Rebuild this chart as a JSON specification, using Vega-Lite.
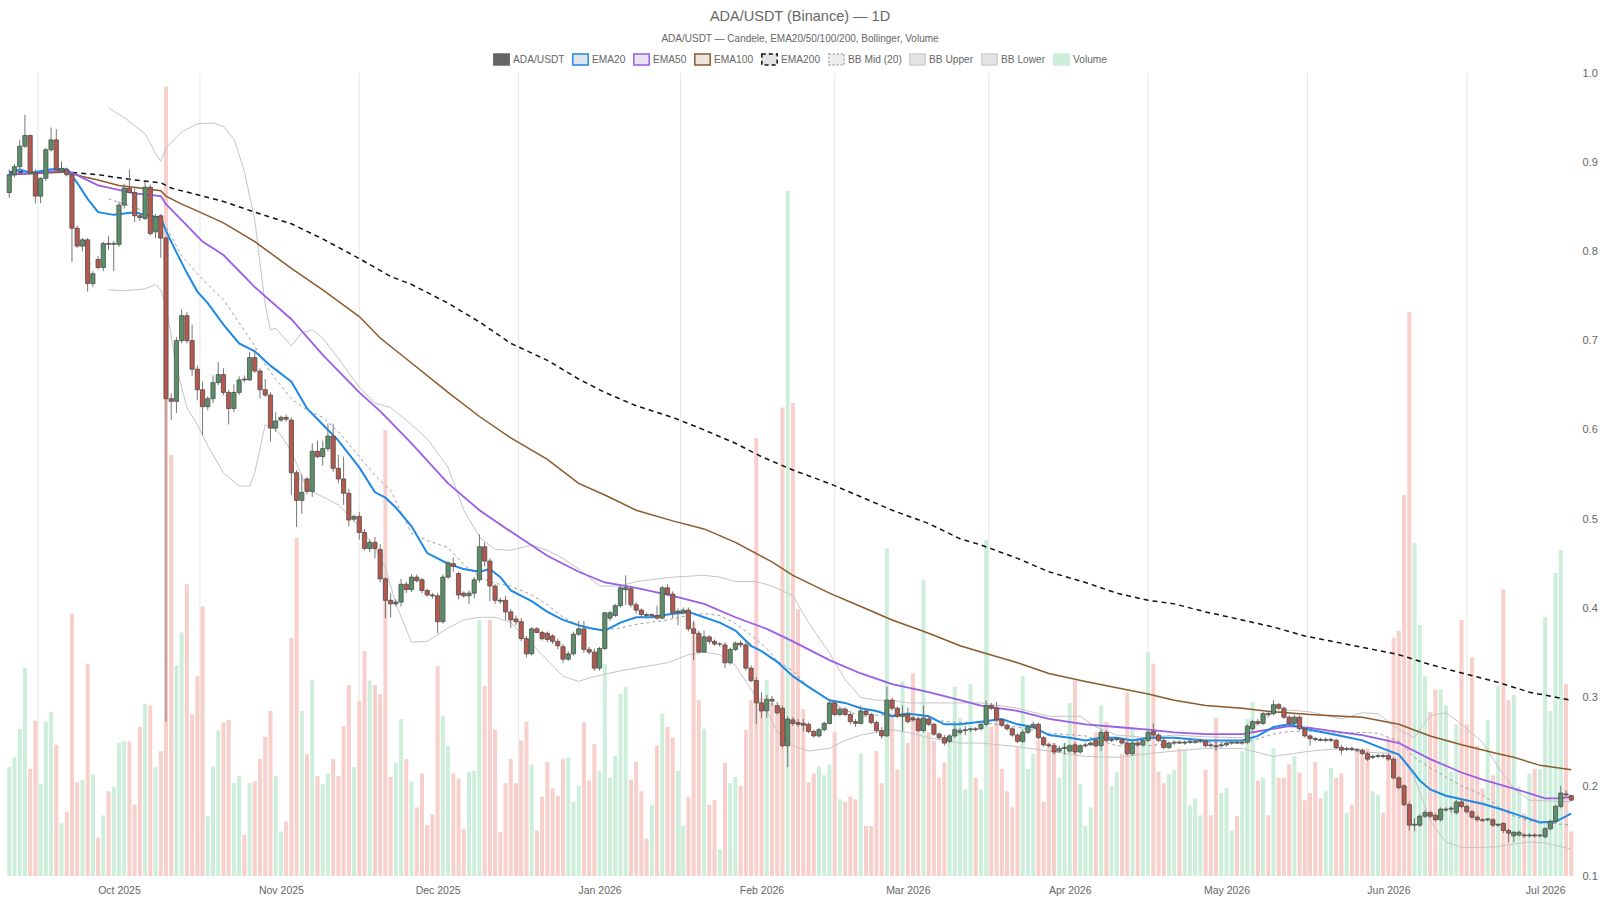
{
"$schema": "https://vega.github.io/schema/vega-lite/v6.json",
"width": 1572, "height": 803,
"autosize": {"type": "none"},
"padding": {"left": 6, "top": 73, "right": 22, "bottom": 24},
"background": "white",
"title": {"text": "ADA/USDT (Binance) — 1D", "subtitle": "ADA/USDT — Candele, EMA20/50/100/200, Bollinger, Volume", "anchor": "middle", "dx": 8, "font": "Liberation Sans", "fontSize": 14.5, "fontWeight": "normal", "color": "#666666", "subtitleFont": "Liberation Sans", "subtitleFontSize": 10, "subtitleColor": "#666666", "subtitlePadding": 9.5, "offset": 8},
"datasets": {
"grid": [{"d":"2025-09-15T12:00:00Z"},{"d":"2025-10-16T12:00:00Z"},{"d":"2025-11-16T00:00:00Z"},{"d":"2025-12-16T12:00:00Z"},{"d":"2026-01-16T12:00:00Z"},{"d":"2026-02-15T00:00:00Z"},{"d":"2026-03-16T12:00:00Z"},{"d":"2026-04-16T00:00:00Z"},{"d":"2026-05-16T12:00:00Z"},{"d":"2026-06-16T00:00:00Z"}],
"legendrows": [{"name":"ADA/USDT"},{"name":"EMA20"},{"name":"EMA50"},{"name":"EMA100"},{"name":"EMA200"},{"name":"BB Mid (20)"},{"name":"BB Upper"},{"name":"BB Lower"},{"name":"Volume"}],
"candles": [
{"d":"2025-09-10","o":0.866,"h":0.892,"l":0.860,"c":0.886,"v":122},
{"d":"2025-09-11","o":0.886,"h":0.898,"l":0.883,"c":0.895,"v":133},
{"d":"2025-09-12","o":0.895,"h":0.925,"l":0.892,"c":0.918,"v":165},
{"d":"2025-09-13","o":0.918,"h":0.953,"l":0.916,"c":0.930,"v":233},
{"d":"2025-09-14","o":0.930,"h":0.931,"l":0.886,"c":0.888,"v":120},
{"d":"2025-09-15","o":0.888,"h":0.892,"l":0.854,"c":0.862,"v":174},
{"d":"2025-09-16","o":0.862,"h":0.883,"l":0.854,"c":0.882,"v":103},
{"d":"2025-09-17","o":0.882,"h":0.916,"l":0.879,"c":0.914,"v":173},
{"d":"2025-09-18","o":0.914,"h":0.939,"l":0.912,"c":0.925,"v":184},
{"d":"2025-09-19","o":0.925,"h":0.937,"l":0.889,"c":0.892,"v":147},
{"d":"2025-09-20","o":0.890,"h":0.901,"l":0.888,"c":0.893,"v":59},
{"d":"2025-09-21","o":0.892,"h":0.894,"l":0.884,"c":0.886,"v":72},
{"d":"2025-09-22","o":0.886,"h":0.888,"l":0.788,"c":0.826,"v":294},
{"d":"2025-09-23","o":0.826,"h":0.829,"l":0.804,"c":0.806,"v":105},
{"d":"2025-09-24","o":0.806,"h":0.815,"l":0.800,"c":0.813,"v":108},
{"d":"2025-09-25","o":0.813,"h":0.815,"l":0.755,"c":0.764,"v":238},
{"d":"2025-09-26","o":0.764,"h":0.778,"l":0.760,"c":0.775,"v":114},
{"d":"2025-09-27","o":0.791,"h":0.795,"l":0.780,"c":0.782,"v":43},
{"d":"2025-09-28","o":0.782,"h":0.811,"l":0.778,"c":0.809,"v":68},
{"d":"2025-09-29","o":0.809,"h":0.817,"l":0.802,"c":0.808,"v":95},
{"d":"2025-09-30","o":0.808,"h":0.812,"l":0.778,"c":0.809,"v":100},
{"d":"2025-10-01","o":0.808,"h":0.856,"l":0.805,"c":0.852,"v":149},
{"d":"2025-10-02","o":0.852,"h":0.876,"l":0.848,"c":0.871,"v":151},
{"d":"2025-10-03","o":0.871,"h":0.892,"l":0.865,"c":0.866,"v":151},
{"d":"2025-10-04","o":0.866,"h":0.871,"l":0.833,"c":0.840,"v":80},
{"d":"2025-10-05","o":0.840,"h":0.842,"l":0.834,"c":0.838,"v":167},
{"d":"2025-10-06","o":0.837,"h":0.878,"l":0.835,"c":0.872,"v":193},
{"d":"2025-10-07","o":0.872,"h":0.875,"l":0.818,"c":0.820,"v":191},
{"d":"2025-10-08","o":0.822,"h":0.842,"l":0.815,"c":0.839,"v":122},
{"d":"2025-10-09","o":0.840,"h":0.842,"l":0.793,"c":0.815,"v":140},
{"d":"2025-10-10","o":0.815,"h":0.817,"l":0.273,"c":0.635,"v":885},
{"d":"2025-10-11","o":0.635,"h":0.641,"l":0.611,"c":0.632,"v":472},
{"d":"2025-10-12","o":0.632,"h":0.704,"l":0.619,"c":0.700,"v":236},
{"d":"2025-10-13","o":0.700,"h":0.735,"l":0.697,"c":0.728,"v":273},
{"d":"2025-10-14","o":0.728,"h":0.732,"l":0.697,"c":0.700,"v":327},
{"d":"2025-10-15","o":0.700,"h":0.718,"l":0.660,"c":0.668,"v":181},
{"d":"2025-10-16","o":0.668,"h":0.672,"l":0.633,"c":0.645,"v":224},
{"d":"2025-10-17","o":0.645,"h":0.654,"l":0.594,"c":0.626,"v":302},
{"d":"2025-10-18","o":0.626,"h":0.638,"l":0.622,"c":0.635,"v":67},
{"d":"2025-10-19","o":0.635,"h":0.661,"l":0.630,"c":0.653,"v":123},
{"d":"2025-10-20","o":0.653,"h":0.676,"l":0.650,"c":0.662,"v":163},
{"d":"2025-10-21","o":0.662,"h":0.669,"l":0.639,"c":0.642,"v":172},
{"d":"2025-10-22","o":0.642,"h":0.645,"l":0.606,"c":0.624,"v":175},
{"d":"2025-10-23","o":0.624,"h":0.651,"l":0.620,"c":0.642,"v":104},
{"d":"2025-10-24","o":0.642,"h":0.660,"l":0.639,"c":0.656,"v":112},
{"d":"2025-10-25","o":0.657,"h":0.661,"l":0.653,"c":0.656,"v":46},
{"d":"2025-10-26","o":0.656,"h":0.687,"l":0.655,"c":0.681,"v":104},
{"d":"2025-10-27","o":0.681,"h":0.690,"l":0.664,"c":0.666,"v":106},
{"d":"2025-10-28","o":0.666,"h":0.669,"l":0.635,"c":0.645,"v":131},
{"d":"2025-10-29","o":0.645,"h":0.657,"l":0.637,"c":0.639,"v":156},
{"d":"2025-10-30","o":0.639,"h":0.642,"l":0.587,"c":0.602,"v":185},
{"d":"2025-10-31","o":0.602,"h":0.620,"l":0.598,"c":0.610,"v":112},
{"d":"2025-11-01","o":0.611,"h":0.616,"l":0.609,"c":0.614,"v":50},
{"d":"2025-11-02","o":0.614,"h":0.617,"l":0.609,"c":0.612,"v":61},
{"d":"2025-11-03","o":0.611,"h":0.614,"l":0.527,"c":0.552,"v":267},
{"d":"2025-11-04","o":0.552,"h":0.555,"l":0.491,"c":0.521,"v":379},
{"d":"2025-11-05","o":0.521,"h":0.550,"l":0.506,"c":0.530,"v":185},
{"d":"2025-11-06","o":0.545,"h":0.547,"l":0.528,"c":0.531,"v":137},
{"d":"2025-11-07","o":0.531,"h":0.585,"l":0.525,"c":0.576,"v":219},
{"d":"2025-11-08","o":0.576,"h":0.588,"l":0.568,"c":0.570,"v":112},
{"d":"2025-11-09","o":0.570,"h":0.588,"l":0.560,"c":0.579,"v":103},
{"d":"2025-11-10","o":0.579,"h":0.607,"l":0.576,"c":0.593,"v":115},
{"d":"2025-11-11","o":0.593,"h":0.607,"l":0.553,"c":0.557,"v":131},
{"d":"2025-11-12","o":0.557,"h":0.572,"l":0.540,"c":0.545,"v":112},
{"d":"2025-11-13","o":0.545,"h":0.570,"l":0.516,"c":0.529,"v":168},
{"d":"2025-11-14","o":0.529,"h":0.534,"l":0.492,"c":0.499,"v":214},
{"d":"2025-11-15","o":0.500,"h":0.505,"l":0.497,"c":0.503,"v":122},
{"d":"2025-11-16","o":0.503,"h":0.508,"l":0.477,"c":0.485,"v":196},
{"d":"2025-11-17","o":0.485,"h":0.489,"l":0.465,"c":0.467,"v":252},
{"d":"2025-11-18","o":0.467,"h":0.477,"l":0.463,"c":0.474,"v":219},
{"d":"2025-11-19","o":0.474,"h":0.480,"l":0.456,"c":0.467,"v":214},
{"d":"2025-11-20","o":0.466,"h":0.472,"l":0.429,"c":0.433,"v":204},
{"d":"2025-11-21","o":0.433,"h":0.435,"l":0.389,"c":0.409,"v":500},
{"d":"2025-11-22","o":0.409,"h":0.417,"l":0.390,"c":0.405,"v":111},
{"d":"2025-11-23","o":0.405,"h":0.410,"l":0.402,"c":0.407,"v":127},
{"d":"2025-11-24","o":0.407,"h":0.433,"l":0.402,"c":0.427,"v":176},
{"d":"2025-11-25","o":0.427,"h":0.430,"l":0.417,"c":0.421,"v":131},
{"d":"2025-11-26","o":0.421,"h":0.438,"l":0.418,"c":0.435,"v":106},
{"d":"2025-11-27","o":0.435,"h":0.438,"l":0.429,"c":0.431,"v":77},
{"d":"2025-11-28","o":0.432,"h":0.434,"l":0.417,"c":0.420,"v":115},
{"d":"2025-11-29","o":0.420,"h":0.422,"l":0.413,"c":0.415,"v":57},
{"d":"2025-11-30","o":0.415,"h":0.417,"l":0.411,"c":0.414,"v":69},
{"d":"2025-12-01","o":0.414,"h":0.417,"l":0.372,"c":0.385,"v":235},
{"d":"2025-12-02","o":0.385,"h":0.438,"l":0.383,"c":0.435,"v":180},
{"d":"2025-12-03","o":0.435,"h":0.453,"l":0.433,"c":0.451,"v":146},
{"d":"2025-12-04","o":0.450,"h":0.457,"l":0.441,"c":0.447,"v":115},
{"d":"2025-12-05","o":0.439,"h":0.441,"l":0.410,"c":0.415,"v":109},
{"d":"2025-12-06","o":0.417,"h":0.419,"l":0.412,"c":0.414,"v":53},
{"d":"2025-12-07","o":0.414,"h":0.420,"l":0.405,"c":0.417,"v":117},
{"d":"2025-12-08","o":0.417,"h":0.435,"l":0.411,"c":0.432,"v":118},
{"d":"2025-12-09","o":0.432,"h":0.483,"l":0.429,"c":0.469,"v":287},
{"d":"2025-12-10","o":0.469,"h":0.474,"l":0.447,"c":0.453,"v":213},
{"d":"2025-12-11","o":0.453,"h":0.456,"l":0.408,"c":0.425,"v":287},
{"d":"2025-12-12","o":0.425,"h":0.427,"l":0.405,"c":0.409,"v":164},
{"d":"2025-12-13","o":0.409,"h":0.412,"l":0.405,"c":0.408,"v":49},
{"d":"2025-12-14","o":0.409,"h":0.414,"l":0.387,"c":0.396,"v":104},
{"d":"2025-12-15","o":0.396,"h":0.399,"l":0.378,"c":0.387,"v":131},
{"d":"2025-12-16","o":0.388,"h":0.392,"l":0.381,"c":0.385,"v":104},
{"d":"2025-12-17","o":0.385,"h":0.389,"l":0.363,"c":0.366,"v":152},
{"d":"2025-12-18","o":0.366,"h":0.369,"l":0.345,"c":0.349,"v":173},
{"d":"2025-12-19","o":0.349,"h":0.379,"l":0.347,"c":0.377,"v":125},
{"d":"2025-12-20","o":0.377,"h":0.379,"l":0.372,"c":0.373,"v":51},
{"d":"2025-12-21","o":0.373,"h":0.375,"l":0.364,"c":0.366,"v":89},
{"d":"2025-12-22","o":0.372,"h":0.374,"l":0.362,"c":0.365,"v":128},
{"d":"2025-12-23","o":0.369,"h":0.371,"l":0.360,"c":0.363,"v":98},
{"d":"2025-12-24","o":0.363,"h":0.366,"l":0.354,"c":0.358,"v":90},
{"d":"2025-12-25","o":0.357,"h":0.360,"l":0.339,"c":0.343,"v":131},
{"d":"2025-12-26","o":0.343,"h":0.352,"l":0.341,"c":0.349,"v":133},
{"d":"2025-12-27","o":0.349,"h":0.374,"l":0.347,"c":0.371,"v":83},
{"d":"2025-12-28","o":0.371,"h":0.386,"l":0.369,"c":0.377,"v":101},
{"d":"2025-12-29","o":0.377,"h":0.386,"l":0.350,"c":0.354,"v":172},
{"d":"2025-12-30","o":0.354,"h":0.357,"l":0.348,"c":0.351,"v":107},
{"d":"2025-12-31","o":0.351,"h":0.355,"l":0.330,"c":0.333,"v":148},
{"d":"2026-01-01","o":0.333,"h":0.357,"l":0.330,"c":0.355,"v":118},
{"d":"2026-01-02","o":0.355,"h":0.396,"l":0.353,"c":0.395,"v":238},
{"d":"2026-01-03","o":0.389,"h":0.397,"l":0.386,"c":0.395,"v":110},
{"d":"2026-01-04","o":0.392,"h":0.405,"l":0.390,"c":0.403,"v":135},
{"d":"2026-01-05","o":0.403,"h":0.425,"l":0.401,"c":0.423,"v":204},
{"d":"2026-01-06","o":0.421,"h":0.437,"l":0.404,"c":0.423,"v":212},
{"d":"2026-01-07","o":0.422,"h":0.425,"l":0.401,"c":0.404,"v":108},
{"d":"2026-01-08","o":0.404,"h":0.407,"l":0.394,"c":0.398,"v":128},
{"d":"2026-01-09","o":0.398,"h":0.400,"l":0.390,"c":0.393,"v":95},
{"d":"2026-01-10","o":0.393,"h":0.395,"l":0.390,"c":0.392,"v":42},
{"d":"2026-01-11","o":0.392,"h":0.394,"l":0.390,"c":0.393,"v":80},
{"d":"2026-01-12","o":0.392,"h":0.403,"l":0.387,"c":0.389,"v":146},
{"d":"2026-01-13","o":0.389,"h":0.425,"l":0.388,"c":0.423,"v":182},
{"d":"2026-01-14","o":0.423,"h":0.427,"l":0.414,"c":0.416,"v":167},
{"d":"2026-01-15","o":0.416,"h":0.419,"l":0.389,"c":0.395,"v":155},
{"d":"2026-01-16","o":0.395,"h":0.400,"l":0.381,"c":0.397,"v":118},
{"d":"2026-01-17","o":0.395,"h":0.401,"l":0.393,"c":0.398,"v":56},
{"d":"2026-01-18","o":0.398,"h":0.401,"l":0.374,"c":0.377,"v":89},
{"d":"2026-01-19","o":0.377,"h":0.386,"l":0.342,"c":0.372,"v":284},
{"d":"2026-01-20","o":0.372,"h":0.375,"l":0.350,"c":0.351,"v":197},
{"d":"2026-01-21","o":0.351,"h":0.375,"l":0.350,"c":0.368,"v":165},
{"d":"2026-01-22","o":0.368,"h":0.370,"l":0.360,"c":0.363,"v":80},
{"d":"2026-01-23","o":0.363,"h":0.365,"l":0.358,"c":0.360,"v":85},
{"d":"2026-01-24","o":0.360,"h":0.362,"l":0.357,"c":0.360,"v":30},
{"d":"2026-01-25","o":0.359,"h":0.362,"l":0.333,"c":0.339,"v":127},
{"d":"2026-01-26","o":0.339,"h":0.356,"l":0.337,"c":0.354,"v":104},
{"d":"2026-01-27","o":0.354,"h":0.363,"l":0.352,"c":0.361,"v":111},
{"d":"2026-01-28","o":0.361,"h":0.364,"l":0.356,"c":0.359,"v":101},
{"d":"2026-01-29","o":0.359,"h":0.362,"l":0.330,"c":0.333,"v":164},
{"d":"2026-01-30","o":0.333,"h":0.336,"l":0.317,"c":0.319,"v":197},
{"d":"2026-01-31","o":0.319,"h":0.323,"l":0.270,"c":0.294,"v":491},
{"d":"2026-02-01","o":0.294,"h":0.306,"l":0.277,"c":0.285,"v":200},
{"d":"2026-02-02","o":0.285,"h":0.303,"l":0.277,"c":0.298,"v":220},
{"d":"2026-02-03","o":0.298,"h":0.302,"l":0.291,"c":0.296,"v":194},
{"d":"2026-02-04","o":0.291,"h":0.295,"l":0.281,"c":0.283,"v":191},
{"d":"2026-02-05","o":0.288,"h":0.291,"l":0.244,"c":0.246,"v":525},
{"d":"2026-02-06","o":0.246,"h":0.279,"l":0.222,"c":0.276,"v":768},
{"d":"2026-02-07","o":0.275,"h":0.278,"l":0.268,"c":0.271,"v":530},
{"d":"2026-02-08","o":0.272,"h":0.276,"l":0.267,"c":0.270,"v":299},
{"d":"2026-02-09","o":0.271,"h":0.276,"l":0.262,"c":0.269,"v":187},
{"d":"2026-02-10","o":0.270,"h":0.272,"l":0.260,"c":0.262,"v":105},
{"d":"2026-02-11","o":0.262,"h":0.264,"l":0.255,"c":0.257,"v":115},
{"d":"2026-02-12","o":0.257,"h":0.266,"l":0.255,"c":0.264,"v":123},
{"d":"2026-02-13","o":0.264,"h":0.273,"l":0.262,"c":0.271,"v":113},
{"d":"2026-02-14","o":0.271,"h":0.297,"l":0.270,"c":0.294,"v":125},
{"d":"2026-02-15","o":0.294,"h":0.297,"l":0.279,"c":0.281,"v":161},
{"d":"2026-02-16","o":0.281,"h":0.290,"l":0.279,"c":0.287,"v":86},
{"d":"2026-02-17","o":0.287,"h":0.289,"l":0.279,"c":0.281,"v":83},
{"d":"2026-02-18","o":0.281,"h":0.285,"l":0.270,"c":0.273,"v":89},
{"d":"2026-02-19","o":0.273,"h":0.276,"l":0.267,"c":0.271,"v":86},
{"d":"2026-02-20","o":0.271,"h":0.291,"l":0.270,"c":0.285,"v":137},
{"d":"2026-02-21","o":0.285,"h":0.287,"l":0.279,"c":0.281,"v":56},
{"d":"2026-02-22","o":0.281,"h":0.283,"l":0.270,"c":0.272,"v":56},
{"d":"2026-02-23","o":0.272,"h":0.274,"l":0.261,"c":0.263,"v":140},
{"d":"2026-02-24","o":0.263,"h":0.267,"l":0.254,"c":0.257,"v":104},
{"d":"2026-02-25","o":0.257,"h":0.312,"l":0.256,"c":0.297,"v":367},
{"d":"2026-02-26","o":0.297,"h":0.300,"l":0.285,"c":0.288,"v":182},
{"d":"2026-02-27","o":0.288,"h":0.290,"l":0.277,"c":0.279,"v":119},
{"d":"2026-02-28","o":0.279,"h":0.291,"l":0.262,"c":0.281,"v":218},
{"d":"2026-03-01","o":0.281,"h":0.289,"l":0.271,"c":0.273,"v":149},
{"d":"2026-03-02","o":0.277,"h":0.279,"l":0.273,"c":0.275,"v":227},
{"d":"2026-03-03","o":0.276,"h":0.279,"l":0.261,"c":0.263,"v":164},
{"d":"2026-03-04","o":0.263,"h":0.291,"l":0.261,"c":0.277,"v":332},
{"d":"2026-03-05","o":0.276,"h":0.279,"l":0.268,"c":0.270,"v":161},
{"d":"2026-03-06","o":0.270,"h":0.272,"l":0.257,"c":0.259,"v":152},
{"d":"2026-03-07","o":0.259,"h":0.261,"l":0.253,"c":0.255,"v":110},
{"d":"2026-03-08","o":0.255,"h":0.258,"l":0.246,"c":0.249,"v":127},
{"d":"2026-03-09","o":0.251,"h":0.259,"l":0.249,"c":0.257,"v":155},
{"d":"2026-03-10","o":0.257,"h":0.270,"l":0.255,"c":0.264,"v":212},
{"d":"2026-03-11","o":0.261,"h":0.266,"l":0.258,"c":0.263,"v":177},
{"d":"2026-03-12","o":0.263,"h":0.268,"l":0.258,"c":0.264,"v":97},
{"d":"2026-03-13","o":0.264,"h":0.266,"l":0.261,"c":0.265,"v":215},
{"d":"2026-03-14","o":0.265,"h":0.267,"l":0.262,"c":0.264,"v":110},
{"d":"2026-03-15","o":0.265,"h":0.272,"l":0.263,"c":0.270,"v":97},
{"d":"2026-03-16","o":0.270,"h":0.297,"l":0.268,"c":0.291,"v":377},
{"d":"2026-03-17","o":0.291,"h":0.294,"l":0.286,"c":0.288,"v":167},
{"d":"2026-03-18","o":0.288,"h":0.295,"l":0.273,"c":0.275,"v":182},
{"d":"2026-03-19","o":0.275,"h":0.277,"l":0.267,"c":0.269,"v":120},
{"d":"2026-03-20","o":0.269,"h":0.271,"l":0.263,"c":0.265,"v":95},
{"d":"2026-03-21","o":0.265,"h":0.267,"l":0.256,"c":0.258,"v":77},
{"d":"2026-03-22","o":0.258,"h":0.260,"l":0.249,"c":0.251,"v":145},
{"d":"2026-03-23","o":0.251,"h":0.264,"l":0.249,"c":0.261,"v":224},
{"d":"2026-03-24","o":0.261,"h":0.269,"l":0.259,"c":0.267,"v":120},
{"d":"2026-03-25","o":0.267,"h":0.273,"l":0.265,"c":0.270,"v":137},
{"d":"2026-03-26","o":0.270,"h":0.272,"l":0.253,"c":0.255,"v":152},
{"d":"2026-03-27","o":0.255,"h":0.257,"l":0.245,"c":0.247,"v":83},
{"d":"2026-03-28","o":0.247,"h":0.249,"l":0.244,"c":0.246,"v":150},
{"d":"2026-03-29","o":0.246,"h":0.249,"l":0.236,"c":0.239,"v":149},
{"d":"2026-03-30","o":0.240,"h":0.246,"l":0.238,"c":0.243,"v":110},
{"d":"2026-03-31","o":0.243,"h":0.249,"l":0.236,"c":0.244,"v":149},
{"d":"2026-04-01","o":0.240,"h":0.248,"l":0.238,"c":0.246,"v":194},
{"d":"2026-04-02","o":0.247,"h":0.250,"l":0.236,"c":0.239,"v":219},
{"d":"2026-04-03","o":0.239,"h":0.248,"l":0.237,"c":0.246,"v":103},
{"d":"2026-04-04","o":0.246,"h":0.249,"l":0.244,"c":0.247,"v":56},
{"d":"2026-04-05","o":0.247,"h":0.251,"l":0.246,"c":0.249,"v":77},
{"d":"2026-04-06","o":0.252,"h":0.254,"l":0.244,"c":0.246,"v":161},
{"d":"2026-04-07","o":0.246,"h":0.264,"l":0.240,"c":0.261,"v":191},
{"d":"2026-04-08","o":0.261,"h":0.263,"l":0.250,"c":0.252,"v":173},
{"d":"2026-04-09","o":0.252,"h":0.255,"l":0.250,"c":0.253,"v":101},
{"d":"2026-04-10","o":0.253,"h":0.255,"l":0.251,"c":0.254,"v":117},
{"d":"2026-04-11","o":0.253,"h":0.255,"l":0.247,"c":0.249,"v":137},
{"d":"2026-04-12","o":0.249,"h":0.251,"l":0.235,"c":0.237,"v":206},
{"d":"2026-04-13","o":0.237,"h":0.251,"l":0.235,"c":0.249,"v":167},
{"d":"2026-04-14","o":0.249,"h":0.252,"l":0.245,"c":0.247,"v":155},
{"d":"2026-04-15","o":0.247,"h":0.254,"l":0.245,"c":0.252,"v":152},
{"d":"2026-04-16","o":0.252,"h":0.263,"l":0.250,"c":0.261,"v":251},
{"d":"2026-04-17","o":0.262,"h":0.271,"l":0.254,"c":0.258,"v":238},
{"d":"2026-04-18","o":0.258,"h":0.260,"l":0.250,"c":0.252,"v":117},
{"d":"2026-04-19","o":0.252,"h":0.254,"l":0.242,"c":0.244,"v":104},
{"d":"2026-04-20","o":0.244,"h":0.251,"l":0.242,"c":0.249,"v":114},
{"d":"2026-04-21","o":0.249,"h":0.252,"l":0.247,"c":0.250,"v":119},
{"d":"2026-04-22","o":0.250,"h":0.252,"l":0.248,"c":0.249,"v":143},
{"d":"2026-04-23","o":0.249,"h":0.252,"l":0.247,"c":0.250,"v":142},
{"d":"2026-04-24","o":0.250,"h":0.253,"l":0.248,"c":0.251,"v":79},
{"d":"2026-04-25","o":0.250,"h":0.253,"l":0.248,"c":0.251,"v":87},
{"d":"2026-04-26","o":0.251,"h":0.254,"l":0.249,"c":0.252,"v":68},
{"d":"2026-04-27","o":0.251,"h":0.253,"l":0.244,"c":0.246,"v":119},
{"d":"2026-04-28","o":0.247,"h":0.249,"l":0.244,"c":0.246,"v":68},
{"d":"2026-04-29","o":0.246,"h":0.252,"l":0.240,"c":0.245,"v":177},
{"d":"2026-04-30","o":0.246,"h":0.249,"l":0.244,"c":0.247,"v":93},
{"d":"2026-05-01","o":0.247,"h":0.251,"l":0.245,"c":0.249,"v":99},
{"d":"2026-05-02","o":0.249,"h":0.252,"l":0.247,"c":0.250,"v":51},
{"d":"2026-05-03","o":0.250,"h":0.252,"l":0.248,"c":0.249,"v":67},
{"d":"2026-05-04","o":0.249,"h":0.252,"l":0.247,"c":0.250,"v":140},
{"d":"2026-05-05","o":0.250,"h":0.270,"l":0.248,"c":0.268,"v":176},
{"d":"2026-05-06","o":0.265,"h":0.275,"l":0.263,"c":0.273,"v":195},
{"d":"2026-05-07","o":0.273,"h":0.276,"l":0.269,"c":0.271,"v":107},
{"d":"2026-05-08","o":0.271,"h":0.284,"l":0.269,"c":0.282,"v":110},
{"d":"2026-05-09","o":0.282,"h":0.284,"l":0.279,"c":0.281,"v":68},
{"d":"2026-05-10","o":0.282,"h":0.297,"l":0.280,"c":0.292,"v":143},
{"d":"2026-05-11","o":0.292,"h":0.294,"l":0.286,"c":0.288,"v":110},
{"d":"2026-05-12","o":0.288,"h":0.290,"l":0.276,"c":0.278,"v":110},
{"d":"2026-05-13","o":0.278,"h":0.280,"l":0.269,"c":0.271,"v":125},
{"d":"2026-05-14","o":0.271,"h":0.281,"l":0.269,"c":0.278,"v":134},
{"d":"2026-05-15","o":0.278,"h":0.280,"l":0.263,"c":0.265,"v":116},
{"d":"2026-05-16","o":0.265,"h":0.267,"l":0.255,"c":0.257,"v":85},
{"d":"2026-05-17","o":0.257,"h":0.259,"l":0.246,"c":0.254,"v":93},
{"d":"2026-05-18","o":0.254,"h":0.256,"l":0.251,"c":0.253,"v":128},
{"d":"2026-05-19","o":0.253,"h":0.255,"l":0.251,"c":0.252,"v":87},
{"d":"2026-05-20","o":0.252,"h":0.255,"l":0.250,"c":0.253,"v":95},
{"d":"2026-05-21","o":0.252,"h":0.255,"l":0.250,"c":0.253,"v":121},
{"d":"2026-05-22","o":0.252,"h":0.254,"l":0.242,"c":0.244,"v":110},
{"d":"2026-05-23","o":0.244,"h":0.247,"l":0.236,"c":0.241,"v":115},
{"d":"2026-05-24","o":0.242,"h":0.245,"l":0.240,"c":0.243,"v":71},
{"d":"2026-05-25","o":0.243,"h":0.245,"l":0.240,"c":0.242,"v":80},
{"d":"2026-05-26","o":0.242,"h":0.243,"l":0.239,"c":0.241,"v":140},
{"d":"2026-05-27","o":0.241,"h":0.243,"l":0.235,"c":0.237,"v":135},
{"d":"2026-05-28","o":0.237,"h":0.239,"l":0.229,"c":0.231,"v":143},
{"d":"2026-05-29","o":0.233,"h":0.236,"l":0.231,"c":0.234,"v":95},
{"d":"2026-05-30","o":0.234,"h":0.237,"l":0.232,"c":0.235,"v":91},
{"d":"2026-05-31","o":0.235,"h":0.237,"l":0.232,"c":0.234,"v":71},
{"d":"2026-06-01","o":0.235,"h":0.237,"l":0.229,"c":0.231,"v":155},
{"d":"2026-06-02","o":0.231,"h":0.233,"l":0.208,"c":0.210,"v":267},
{"d":"2026-06-03","o":0.210,"h":0.212,"l":0.197,"c":0.199,"v":275},
{"d":"2026-06-04","o":0.201,"h":0.203,"l":0.178,"c":0.180,"v":427},
{"d":"2026-06-05","o":0.180,"h":0.183,"l":0.151,"c":0.157,"v":632},
{"d":"2026-06-06","o":0.157,"h":0.165,"l":0.150,"c":0.158,"v":373},
{"d":"2026-06-07","o":0.157,"h":0.169,"l":0.155,"c":0.167,"v":281},
{"d":"2026-06-08","o":0.167,"h":0.174,"l":0.165,"c":0.171,"v":224},
{"d":"2026-06-09","o":0.171,"h":0.173,"l":0.165,"c":0.167,"v":184},
{"d":"2026-06-10","o":0.168,"h":0.170,"l":0.161,"c":0.163,"v":209},
{"d":"2026-06-11","o":0.163,"h":0.177,"l":0.161,"c":0.175,"v":209},
{"d":"2026-06-12","o":0.174,"h":0.177,"l":0.172,"c":0.175,"v":191},
{"d":"2026-06-13","o":0.175,"h":0.178,"l":0.171,"c":0.176,"v":117},
{"d":"2026-06-14","o":0.171,"h":0.185,"l":0.169,"c":0.183,"v":170},
{"d":"2026-06-15","o":0.183,"h":0.187,"l":0.176,"c":0.178,"v":287},
{"d":"2026-06-16","o":0.178,"h":0.180,"l":0.170,"c":0.172,"v":170},
{"d":"2026-06-17","o":0.172,"h":0.174,"l":0.164,"c":0.166,"v":245},
{"d":"2026-06-18","o":0.166,"h":0.168,"l":0.161,"c":0.163,"v":146},
{"d":"2026-06-19","o":0.163,"h":0.165,"l":0.161,"c":0.162,"v":98},
{"d":"2026-06-20","o":0.163,"h":0.165,"l":0.161,"c":0.164,"v":175},
{"d":"2026-06-21","o":0.163,"h":0.165,"l":0.155,"c":0.157,"v":113},
{"d":"2026-06-22","o":0.157,"h":0.159,"l":0.155,"c":0.158,"v":213},
{"d":"2026-06-23","o":0.159,"h":0.160,"l":0.148,"c":0.151,"v":321},
{"d":"2026-06-24","o":0.151,"h":0.153,"l":0.138,"c":0.148,"v":197},
{"d":"2026-06-25","o":0.145,"h":0.150,"l":0.138,"c":0.149,"v":203},
{"d":"2026-06-26","o":0.146,"h":0.151,"l":0.144,"c":0.149,"v":100},
{"d":"2026-06-27","o":0.146,"h":0.148,"l":0.143,"c":0.145,"v":70},
{"d":"2026-06-28","o":0.145,"h":0.148,"l":0.143,"c":0.146,"v":115},
{"d":"2026-06-29","o":0.146,"h":0.148,"l":0.143,"c":0.145,"v":120},
{"d":"2026-06-30","o":0.145,"h":0.147,"l":0.143,"c":0.146,"v":120},
{"d":"2026-07-01","o":0.144,"h":0.155,"l":0.142,"c":0.153,"v":290},
{"d":"2026-07-02","o":0.153,"h":0.163,"l":0.151,"c":0.161,"v":185},
{"d":"2026-07-03","o":0.161,"h":0.180,"l":0.159,"c":0.178,"v":340},
{"d":"2026-07-04","o":0.178,"h":0.201,"l":0.176,"c":0.193,"v":365},
{"d":"2026-07-05","o":0.192,"h":0.196,"l":0.188,"c":0.191,"v":215},
{"d":"2026-07-06","o":0.190,"h":0.191,"l":0.184,"c":0.185,"v":50}
],
"lines": [
{"d":"2025-09-10","s":"EMA200","p":0.889},{"d":"2025-09-21","s":"EMA200","p":0.889},{"d":"2025-09-27","s":"EMA200","p":0.886},{"d":"2025-10-04","s":"EMA200","p":0.880},{"d":"2025-10-09","s":"EMA200","p":0.877},{"d":"2025-10-11","s":"EMA200","p":0.871},{"d":"2025-10-15","s":"EMA200","p":0.865},{"d":"2025-10-21","s":"EMA200","p":0.856},{"d":"2025-10-27","s":"EMA200","p":0.844},{"d":"2025-11-03","s":"EMA200","p":0.831},{"d":"2025-11-09","s":"EMA200","p":0.814},{"d":"2025-11-16","s":"EMA200","p":0.792},{"d":"2025-11-22","s":"EMA200","p":0.772},{"d":"2025-11-26","s":"EMA200","p":0.763},{"d":"2025-12-03","s":"EMA200","p":0.742},{"d":"2025-12-09","s":"EMA200","p":0.721},{"d":"2025-12-15","s":"EMA200","p":0.697},{"d":"2025-12-22","s":"EMA200","p":0.678},{"d":"2025-12-28","s":"EMA200","p":0.657},{"d":"2026-01-02","s":"EMA200","p":0.642},{"d":"2026-01-08","s":"EMA200","p":0.627},{"d":"2026-01-15","s":"EMA200","p":0.614},{"d":"2026-01-21","s":"EMA200","p":0.600},{"d":"2026-01-27","s":"EMA200","p":0.585},{"d":"2026-02-01","s":"EMA200","p":0.570},{"d":"2026-02-07","s":"EMA200","p":0.555},{"d":"2026-02-14","s":"EMA200","p":0.540},{"d":"2026-02-20","s":"EMA200","p":0.525},{"d":"2026-02-26","s":"EMA200","p":0.510},{"d":"2026-03-05","s":"EMA200","p":0.495},{"d":"2026-03-11","s":"EMA200","p":0.478},{"d":"2026-03-15","s":"EMA200","p":0.471},{"d":"2026-03-22","s":"EMA200","p":0.456},{"d":"2026-03-28","s":"EMA200","p":0.441},{"d":"2026-04-04","s":"EMA200","p":0.429},{"d":"2026-04-10","s":"EMA200","p":0.417},{"d":"2026-04-16","s":"EMA200","p":0.409},{"d":"2026-04-21","s":"EMA200","p":0.405},{"d":"2026-04-27","s":"EMA200","p":0.396},{"d":"2026-05-04","s":"EMA200","p":0.387},{"d":"2026-05-10","s":"EMA200","p":0.379},{"d":"2026-05-16","s":"EMA200","p":0.369},{"d":"2026-05-23","s":"EMA200","p":0.361},{"d":"2026-05-29","s":"EMA200","p":0.354},{"d":"2026-06-03","s":"EMA200","p":0.348},{"d":"2026-06-09","s":"EMA200","p":0.337},{"d":"2026-06-16","s":"EMA200","p":0.326},{"d":"2026-06-22","s":"EMA200","p":0.317},{"d":"2026-06-28","s":"EMA200","p":0.306},{"d":"2026-07-06","s":"EMA200","p":0.297},
{"d":"2025-09-10","s":"EMA100","p":0.886},{"d":"2025-09-21","s":"EMA100","p":0.889},{"d":"2025-09-24","s":"EMA100","p":0.884},{"d":"2025-09-27","s":"EMA100","p":0.880},{"d":"2025-10-01","s":"EMA100","p":0.874},{"d":"2025-10-05","s":"EMA100","p":0.871},{"d":"2025-10-09","s":"EMA100","p":0.868},{"d":"2025-10-10","s":"EMA100","p":0.862},{"d":"2025-10-13","s":"EMA100","p":0.853},{"d":"2025-10-15","s":"EMA100","p":0.848},{"d":"2025-10-21","s":"EMA100","p":0.832},{"d":"2025-10-27","s":"EMA100","p":0.811},{"d":"2025-11-03","s":"EMA100","p":0.781},{"d":"2025-11-09","s":"EMA100","p":0.757},{"d":"2025-11-16","s":"EMA100","p":0.727},{"d":"2025-11-20","s":"EMA100","p":0.703},{"d":"2025-11-26","s":"EMA100","p":0.675},{"d":"2025-12-03","s":"EMA100","p":0.642},{"d":"2025-12-09","s":"EMA100","p":0.615},{"d":"2025-12-15","s":"EMA100","p":0.591},{"d":"2025-12-22","s":"EMA100","p":0.567},{"d":"2025-12-28","s":"EMA100","p":0.540},{"d":"2026-01-02","s":"EMA100","p":0.527},{"d":"2026-01-08","s":"EMA100","p":0.510},{"d":"2026-01-15","s":"EMA100","p":0.498},{"d":"2026-01-21","s":"EMA100","p":0.489},{"d":"2026-01-27","s":"EMA100","p":0.474},{"d":"2026-02-03","s":"EMA100","p":0.452},{"d":"2026-02-07","s":"EMA100","p":0.437},{"d":"2026-02-14","s":"EMA100","p":0.417},{"d":"2026-02-20","s":"EMA100","p":0.402},{"d":"2026-02-26","s":"EMA100","p":0.387},{"d":"2026-03-05","s":"EMA100","p":0.372},{"d":"2026-03-11","s":"EMA100","p":0.358},{"d":"2026-03-15","s":"EMA100","p":0.351},{"d":"2026-03-22","s":"EMA100","p":0.339},{"d":"2026-03-28","s":"EMA100","p":0.327},{"d":"2026-04-04","s":"EMA100","p":0.318},{"d":"2026-04-10","s":"EMA100","p":0.311},{"d":"2026-04-16","s":"EMA100","p":0.304},{"d":"2026-04-21","s":"EMA100","p":0.297},{"d":"2026-04-27","s":"EMA100","p":0.291},{"d":"2026-05-04","s":"EMA100","p":0.288},{"d":"2026-05-10","s":"EMA100","p":0.284},{"d":"2026-05-17","s":"EMA100","p":0.281},{"d":"2026-05-23","s":"EMA100","p":0.279},{"d":"2026-05-27","s":"EMA100","p":0.278},{"d":"2026-06-03","s":"EMA100","p":0.270},{"d":"2026-06-09","s":"EMA100","p":0.257},{"d":"2026-06-15","s":"EMA100","p":0.247},{"d":"2026-06-22","s":"EMA100","p":0.237},{"d":"2026-06-25","s":"EMA100","p":0.233},{"d":"2026-06-30","s":"EMA100","p":0.224},{"d":"2026-07-06","s":"EMA100","p":0.219},
{"d":"2025-09-10","s":"EMA50","p":0.886},{"d":"2025-09-21","s":"EMA50","p":0.891},{"d":"2025-09-27","s":"EMA50","p":0.874},{"d":"2025-10-04","s":"EMA50","p":0.865},{"d":"2025-10-09","s":"EMA50","p":0.862},{"d":"2025-10-10","s":"EMA50","p":0.853},{"d":"2025-10-13","s":"EMA50","p":0.835},{"d":"2025-10-15","s":"EMA50","p":0.823},{"d":"2025-10-17","s":"EMA50","p":0.811},{"d":"2025-10-21","s":"EMA50","p":0.796},{"d":"2025-10-27","s":"EMA50","p":0.760},{"d":"2025-11-03","s":"EMA50","p":0.724},{"d":"2025-11-09","s":"EMA50","p":0.684},{"d":"2025-11-16","s":"EMA50","p":0.642},{"d":"2025-11-20","s":"EMA50","p":0.621},{"d":"2025-11-26","s":"EMA50","p":0.585},{"d":"2025-12-03","s":"EMA50","p":0.540},{"d":"2025-12-09","s":"EMA50","p":0.510},{"d":"2025-12-15","s":"EMA50","p":0.486},{"d":"2025-12-22","s":"EMA50","p":0.459},{"d":"2025-12-28","s":"EMA50","p":0.441},{"d":"2026-01-02","s":"EMA50","p":0.429},{"d":"2026-01-08","s":"EMA50","p":0.423},{"d":"2026-01-15","s":"EMA50","p":0.414},{"d":"2026-01-21","s":"EMA50","p":0.405},{"d":"2026-01-27","s":"EMA50","p":0.390},{"d":"2026-02-02","s":"EMA50","p":0.377},{"d":"2026-02-07","s":"EMA50","p":0.363},{"d":"2026-02-14","s":"EMA50","p":0.342},{"d":"2026-02-20","s":"EMA50","p":0.327},{"d":"2026-02-26","s":"EMA50","p":0.315},{"d":"2026-03-05","s":"EMA50","p":0.306},{"d":"2026-03-11","s":"EMA50","p":0.297},{"d":"2026-03-15","s":"EMA50","p":0.291},{"d":"2026-03-22","s":"EMA50","p":0.285},{"d":"2026-03-28","s":"EMA50","p":0.276},{"d":"2026-04-04","s":"EMA50","p":0.270},{"d":"2026-04-10","s":"EMA50","p":0.267},{"d":"2026-04-16","s":"EMA50","p":0.264},{"d":"2026-04-21","s":"EMA50","p":0.261},{"d":"2026-04-27","s":"EMA50","p":0.259},{"d":"2026-05-04","s":"EMA50","p":0.259},{"d":"2026-05-10","s":"EMA50","p":0.265},{"d":"2026-05-13","s":"EMA50","p":0.268},{"d":"2026-05-17","s":"EMA50","p":0.266},{"d":"2026-05-23","s":"EMA50","p":0.261},{"d":"2026-05-27","s":"EMA50","p":0.258},{"d":"2026-06-03","s":"EMA50","p":0.249},{"d":"2026-06-09","s":"EMA50","p":0.231},{"d":"2026-06-15","s":"EMA50","p":0.216},{"d":"2026-06-19","s":"EMA50","p":0.208},{"d":"2026-06-25","s":"EMA50","p":0.198},{"d":"2026-07-01","s":"EMA50","p":0.187},{"d":"2026-07-04","s":"EMA50","p":0.187},{"d":"2026-07-06","s":"EMA50","p":0.189},
{"d":"2025-09-10","s":"EMA20","p":0.886},{"d":"2025-09-12","s":"EMA20","p":0.892},{"d":"2025-09-14","s":"EMA20","p":0.888},{"d":"2025-09-18","s":"EMA20","p":0.892},{"d":"2025-09-21","s":"EMA20","p":0.892},{"d":"2025-09-23","s":"EMA20","p":0.877},{"d":"2025-09-25","s":"EMA20","p":0.859},{"d":"2025-09-27","s":"EMA20","p":0.844},{"d":"2025-09-30","s":"EMA20","p":0.841},{"d":"2025-10-04","s":"EMA20","p":0.844},{"d":"2025-10-06","s":"EMA20","p":0.841},{"d":"2025-10-09","s":"EMA20","p":0.838},{"d":"2025-10-10","s":"EMA20","p":0.823},{"d":"2025-10-12","s":"EMA20","p":0.799},{"d":"2025-10-14","s":"EMA20","p":0.776},{"d":"2025-10-16","s":"EMA20","p":0.755},{"d":"2025-10-18","s":"EMA20","p":0.742},{"d":"2025-10-21","s":"EMA20","p":0.718},{"d":"2025-10-24","s":"EMA20","p":0.697},{"d":"2025-10-27","s":"EMA20","p":0.688},{"d":"2025-10-30","s":"EMA20","p":0.672},{"d":"2025-11-03","s":"EMA20","p":0.654},{"d":"2025-11-06","s":"EMA20","p":0.624},{"d":"2025-11-09","s":"EMA20","p":0.606},{"d":"2025-11-12","s":"EMA20","p":0.588},{"d":"2025-11-16","s":"EMA20","p":0.558},{"d":"2025-11-19","s":"EMA20","p":0.530},{"d":"2025-11-21","s":"EMA20","p":0.524},{"d":"2025-11-23","s":"EMA20","p":0.513},{"d":"2025-11-26","s":"EMA20","p":0.492},{"d":"2025-11-29","s":"EMA20","p":0.462},{"d":"2025-12-03","s":"EMA20","p":0.450},{"d":"2025-12-06","s":"EMA20","p":0.444},{"d":"2025-12-09","s":"EMA20","p":0.441},{"d":"2025-12-11","s":"EMA20","p":0.444},{"d":"2025-12-13","s":"EMA20","p":0.435},{"d":"2025-12-15","s":"EMA20","p":0.420},{"d":"2025-12-19","s":"EMA20","p":0.408},{"d":"2025-12-22","s":"EMA20","p":0.396},{"d":"2025-12-25","s":"EMA20","p":0.387},{"d":"2025-12-28","s":"EMA20","p":0.381},{"d":"2025-12-30","s":"EMA20","p":0.378},{"d":"2026-01-02","s":"EMA20","p":0.375},{"d":"2026-01-05","s":"EMA20","p":0.384},{"d":"2026-01-08","s":"EMA20","p":0.390},{"d":"2026-01-11","s":"EMA20","p":0.390},{"d":"2026-01-14","s":"EMA20","p":0.393},{"d":"2026-01-18","s":"EMA20","p":0.396},{"d":"2026-01-21","s":"EMA20","p":0.390},{"d":"2026-01-24","s":"EMA20","p":0.384},{"d":"2026-01-27","s":"EMA20","p":0.375},{"d":"2026-01-30","s":"EMA20","p":0.358},{"d":"2026-02-01","s":"EMA20","p":0.352},{"d":"2026-02-04","s":"EMA20","p":0.340},{"d":"2026-02-07","s":"EMA20","p":0.324},{"d":"2026-02-10","s":"EMA20","p":0.312},{"d":"2026-02-14","s":"EMA20","p":0.297},{"d":"2026-02-17","s":"EMA20","p":0.294},{"d":"2026-02-20","s":"EMA20","p":0.288},{"d":"2026-02-23","s":"EMA20","p":0.285},{"d":"2026-02-26","s":"EMA20","p":0.279},{"d":"2026-03-01","s":"EMA20","p":0.282},{"d":"2026-03-05","s":"EMA20","p":0.279},{"d":"2026-03-08","s":"EMA20","p":0.270},{"d":"2026-03-11","s":"EMA20","p":0.270},{"d":"2026-03-15","s":"EMA20","p":0.273},{"d":"2026-03-19","s":"EMA20","p":0.276},{"d":"2026-03-22","s":"EMA20","p":0.270},{"d":"2026-03-25","s":"EMA20","p":0.267},{"d":"2026-03-28","s":"EMA20","p":0.258},{"d":"2026-04-01","s":"EMA20","p":0.255},{"d":"2026-04-04","s":"EMA20","p":0.252},{"d":"2026-04-07","s":"EMA20","p":0.255},{"d":"2026-04-10","s":"EMA20","p":0.255},{"d":"2026-04-13","s":"EMA20","p":0.252},{"d":"2026-04-16","s":"EMA20","p":0.255},{"d":"2026-04-21","s":"EMA20","p":0.255},{"d":"2026-04-27","s":"EMA20","p":0.252},{"d":"2026-05-04","s":"EMA20","p":0.252},{"d":"2026-05-07","s":"EMA20","p":0.257},{"d":"2026-05-10","s":"EMA20","p":0.267},{"d":"2026-05-13","s":"EMA20","p":0.270},{"d":"2026-05-17","s":"EMA20","p":0.264},{"d":"2026-05-23","s":"EMA20","p":0.257},{"d":"2026-05-27","s":"EMA20","p":0.252},{"d":"2026-05-30","s":"EMA20","p":0.245},{"d":"2026-06-03","s":"EMA20","p":0.236},{"d":"2026-06-05","s":"EMA20","p":0.222},{"d":"2026-06-07","s":"EMA20","p":0.207},{"d":"2026-06-09","s":"EMA20","p":0.197},{"d":"2026-06-12","s":"EMA20","p":0.190},{"d":"2026-06-15","s":"EMA20","p":0.186},{"d":"2026-06-19","s":"EMA20","p":0.181},{"d":"2026-06-23","s":"EMA20","p":0.174},{"d":"2026-06-26","s":"EMA20","p":0.168},{"d":"2026-06-30","s":"EMA20","p":0.160},{"d":"2026-07-03","s":"EMA20","p":0.161},{"d":"2026-07-06","s":"EMA20","p":0.170},
{"d":"2025-09-29","s":"BBU","p":0.961},{"d":"2025-10-02","s":"BBU","p":0.950},{"d":"2025-10-06","s":"BBU","p":0.932},{"d":"2025-10-08","s":"BBU","p":0.910},{"d":"2025-10-09","s":"BBU","p":0.901},{"d":"2025-10-10","s":"BBU","p":0.916},{"d":"2025-10-13","s":"BBU","p":0.934},{"d":"2025-10-16","s":"BBU","p":0.943},{"d":"2025-10-19","s":"BBU","p":0.944},{"d":"2025-10-21","s":"BBU","p":0.940},{"d":"2025-10-23","s":"BBU","p":0.926},{"d":"2025-10-25","s":"BBU","p":0.890},{"d":"2025-10-27","s":"BBU","p":0.835},{"d":"2025-10-29","s":"BBU","p":0.740},{"d":"2025-10-30","s":"BBU","p":0.712},{"d":"2025-10-31","s":"BBU","p":0.714},{"d":"2025-11-03","s":"BBU","p":0.694},{"d":"2025-11-05","s":"BBU","p":0.709},{"d":"2025-11-07","s":"BBU","p":0.712},{"d":"2025-11-09","s":"BBU","p":0.703},{"d":"2025-11-12","s":"BBU","p":0.680},{"d":"2025-11-16","s":"BBU","p":0.648},{"d":"2025-11-19","s":"BBU","p":0.630},{"d":"2025-11-22","s":"BBU","p":0.625},{"d":"2025-11-26","s":"BBU","p":0.606},{"d":"2025-11-29","s":"BBU","p":0.590},{"d":"2025-12-03","s":"BBU","p":0.558},{"d":"2025-12-06","s":"BBU","p":0.510},{"d":"2025-12-09","s":"BBU","p":0.480},{"d":"2025-12-12","s":"BBU","p":0.466},{"d":"2025-12-15","s":"BBU","p":0.465},{"d":"2025-12-19","s":"BBU","p":0.471},{"d":"2025-12-22","s":"BBU","p":0.465},{"d":"2025-12-25","s":"BBU","p":0.456},{"d":"2025-12-28","s":"BBU","p":0.444},{"d":"2026-01-01","s":"BBU","p":0.425},{"d":"2026-01-05","s":"BBU","p":0.425},{"d":"2026-01-08","s":"BBU","p":0.430},{"d":"2026-01-15","s":"BBU","p":0.435},{"d":"2026-01-21","s":"BBU","p":0.437},{"d":"2026-01-24","s":"BBU","p":0.435},{"d":"2026-01-27","s":"BBU","p":0.430},{"d":"2026-01-31","s":"BBU","p":0.430},{"d":"2026-02-03","s":"BBU","p":0.425},{"d":"2026-02-07","s":"BBU","p":0.414},{"d":"2026-02-10","s":"BBU","p":0.384},{"d":"2026-02-14","s":"BBU","p":0.350},{"d":"2026-02-17","s":"BBU","p":0.320},{"d":"2026-02-20","s":"BBU","p":0.300},{"d":"2026-02-23","s":"BBU","p":0.297},{"d":"2026-02-26","s":"BBU","p":0.297},{"d":"2026-03-01","s":"BBU","p":0.294},{"d":"2026-03-11","s":"BBU","p":0.294},{"d":"2026-03-15","s":"BBU","p":0.294},{"d":"2026-03-22","s":"BBU","p":0.288},{"d":"2026-03-28","s":"BBU","p":0.279},{"d":"2026-04-03","s":"BBU","p":0.279},{"d":"2026-04-06","s":"BBU","p":0.267},{"d":"2026-04-10","s":"BBU","p":0.258},{"d":"2026-04-16","s":"BBU","p":0.255},{"d":"2026-04-21","s":"BBU","p":0.258},{"d":"2026-04-27","s":"BBU","p":0.256},{"d":"2026-05-04","s":"BBU","p":0.255},{"d":"2026-05-07","s":"BBU","p":0.270},{"d":"2026-05-10","s":"BBU","p":0.283},{"d":"2026-05-13","s":"BBU","p":0.286},{"d":"2026-05-17","s":"BBU","p":0.284},{"d":"2026-05-20","s":"BBU","p":0.280},{"d":"2026-05-23","s":"BBU","p":0.276},{"d":"2026-05-27","s":"BBU","p":0.283},{"d":"2026-05-30","s":"BBU","p":0.282},{"d":"2026-06-03","s":"BBU","p":0.264},{"d":"2026-06-06","s":"BBU","p":0.255},{"d":"2026-06-09","s":"BBU","p":0.280},{"d":"2026-06-12","s":"BBU","p":0.283},{"d":"2026-06-15","s":"BBU","p":0.270},{"d":"2026-06-19","s":"BBU","p":0.250},{"d":"2026-06-22","s":"BBU","p":0.222},{"d":"2026-06-25","s":"BBU","p":0.198},{"d":"2026-06-28","s":"BBU","p":0.185},{"d":"2026-07-06","s":"BBU","p":0.183},
{"d":"2025-09-29","s":"BBL","p":0.757},{"d":"2025-10-02","s":"BBL","p":0.756},{"d":"2025-10-06","s":"BBL","p":0.758},{"d":"2025-10-08","s":"BBL","p":0.763},{"d":"2025-10-09","s":"BBL","p":0.757},{"d":"2025-10-10","s":"BBL","p":0.739},{"d":"2025-10-12","s":"BBL","p":0.670},{"d":"2025-10-14","s":"BBL","p":0.625},{"d":"2025-10-16","s":"BBL","p":0.606},{"d":"2025-10-18","s":"BBL","p":0.582},{"d":"2025-10-21","s":"BBL","p":0.552},{"d":"2025-10-24","s":"BBL","p":0.537},{"d":"2025-10-26","s":"BBL","p":0.537},{"d":"2025-10-27","s":"BBL","p":0.552},{"d":"2025-10-29","s":"BBL","p":0.606},{"d":"2025-10-31","s":"BBL","p":0.600},{"d":"2025-11-01","s":"BBL","p":0.594},{"d":"2025-11-03","s":"BBL","p":0.576},{"d":"2025-11-06","s":"BBL","p":0.534},{"d":"2025-11-09","s":"BBL","p":0.525},{"d":"2025-11-12","s":"BBL","p":0.516},{"d":"2025-11-16","s":"BBL","p":0.492},{"d":"2025-11-19","s":"BBL","p":0.468},{"d":"2025-11-21","s":"BBL","p":0.445},{"d":"2025-11-23","s":"BBL","p":0.405},{"d":"2025-11-26","s":"BBL","p":0.362},{"d":"2025-11-29","s":"BBL","p":0.363},{"d":"2025-12-03","s":"BBL","p":0.378},{"d":"2025-12-06","s":"BBL","p":0.387},{"d":"2025-12-09","s":"BBL","p":0.390},{"d":"2025-12-12","s":"BBL","p":0.390},{"d":"2025-12-15","s":"BBL","p":0.384},{"d":"2025-12-19","s":"BBL","p":0.360},{"d":"2025-12-22","s":"BBL","p":0.342},{"d":"2025-12-25","s":"BBL","p":0.324},{"d":"2025-12-28","s":"BBL","p":0.318},{"d":"2025-12-30","s":"BBL","p":0.322},{"d":"2026-01-05","s":"BBL","p":0.330},{"d":"2026-01-14","s":"BBL","p":0.339},{"d":"2026-01-18","s":"BBL","p":0.348},{"d":"2026-01-21","s":"BBL","p":0.351},{"d":"2026-01-24","s":"BBL","p":0.348},{"d":"2026-01-27","s":"BBL","p":0.336},{"d":"2026-01-30","s":"BBL","p":0.309},{"d":"2026-02-02","s":"BBL","p":0.285},{"d":"2026-02-04","s":"BBL","p":0.262},{"d":"2026-02-07","s":"BBL","p":0.246},{"d":"2026-02-10","s":"BBL","p":0.240},{"d":"2026-02-14","s":"BBL","p":0.243},{"d":"2026-02-17","s":"BBL","p":0.252},{"d":"2026-02-20","s":"BBL","p":0.258},{"d":"2026-02-26","s":"BBL","p":0.264},{"d":"2026-03-01","s":"BBL","p":0.261},{"d":"2026-03-05","s":"BBL","p":0.255},{"d":"2026-03-08","s":"BBL","p":0.252},{"d":"2026-03-11","s":"BBL","p":0.249},{"d":"2026-03-15","s":"BBL","p":0.249},{"d":"2026-03-22","s":"BBL","p":0.245},{"d":"2026-03-28","s":"BBL","p":0.240},{"d":"2026-04-04","s":"BBL","p":0.234},{"d":"2026-04-10","s":"BBL","p":0.233},{"d":"2026-04-16","s":"BBL","p":0.237},{"d":"2026-04-21","s":"BBL","p":0.240},{"d":"2026-04-27","s":"BBL","p":0.243},{"d":"2026-05-04","s":"BBL","p":0.243},{"d":"2026-05-10","s":"BBL","p":0.234},{"d":"2026-05-17","s":"BBL","p":0.240},{"d":"2026-05-23","s":"BBL","p":0.243},{"d":"2026-05-27","s":"BBL","p":0.239},{"d":"2026-06-03","s":"BBL","p":0.237},{"d":"2026-06-06","s":"BBL","p":0.210},{"d":"2026-06-09","s":"BBL","p":0.162},{"d":"2026-06-12","s":"BBL","p":0.138},{"d":"2026-06-15","s":"BBL","p":0.132},{"d":"2026-06-19","s":"BBL","p":0.132},{"d":"2026-06-22","s":"BBL","p":0.133},{"d":"2026-06-25","s":"BBL","p":0.136},{"d":"2026-06-28","s":"BBL","p":0.138},{"d":"2026-07-01","s":"BBL","p":0.137},{"d":"2026-07-04","s":"BBL","p":0.133},{"d":"2026-07-06","s":"BBL","p":0.130},
{"d":"2025-09-29","s":"BBM","p":0.859},{"d":"2025-10-02","s":"BBM","p":0.853},{"d":"2025-10-06","s":"BBM","p":0.845},{"d":"2025-10-08","s":"BBM","p":0.837},{"d":"2025-10-10","s":"BBM","p":0.828},{"d":"2025-10-13","s":"BBM","p":0.795},{"d":"2025-10-16","s":"BBM","p":0.775},{"d":"2025-10-19","s":"BBM","p":0.757},{"d":"2025-10-21","s":"BBM","p":0.746},{"d":"2025-10-24","s":"BBM","p":0.720},{"d":"2025-10-27","s":"BBM","p":0.694},{"d":"2025-10-29","s":"BBM","p":0.673},{"d":"2025-10-31","s":"BBM","p":0.657},{"d":"2025-11-03","s":"BBM","p":0.635},{"d":"2025-11-06","s":"BBM","p":0.622},{"d":"2025-11-09","s":"BBM","p":0.614},{"d":"2025-11-12","s":"BBM","p":0.598},{"d":"2025-11-16","s":"BBM","p":0.570},{"d":"2025-11-19","s":"BBM","p":0.549},{"d":"2025-11-22","s":"BBM","p":0.532},{"d":"2025-11-26","s":"BBM","p":0.484},{"d":"2025-11-29","s":"BBM","p":0.476},{"d":"2025-12-03","s":"BBM","p":0.468},{"d":"2025-12-06","s":"BBM","p":0.449},{"d":"2025-12-09","s":"BBM","p":0.435},{"d":"2025-12-12","s":"BBM","p":0.428},{"d":"2025-12-15","s":"BBM","p":0.425},{"d":"2025-12-19","s":"BBM","p":0.415},{"d":"2025-12-22","s":"BBM","p":0.404},{"d":"2025-12-25","s":"BBM","p":0.390},{"d":"2025-12-28","s":"BBM","p":0.381},{"d":"2026-01-01","s":"BBM","p":0.375},{"d":"2026-01-05","s":"BBM","p":0.378},{"d":"2026-01-08","s":"BBM","p":0.382},{"d":"2026-01-14","s":"BBM","p":0.387},{"d":"2026-01-18","s":"BBM","p":0.392},{"d":"2026-01-21","s":"BBM","p":0.394},{"d":"2026-01-24","s":"BBM","p":0.392},{"d":"2026-01-27","s":"BBM","p":0.383},{"d":"2026-01-30","s":"BBM","p":0.370},{"d":"2026-02-02","s":"BBM","p":0.355},{"d":"2026-02-04","s":"BBM","p":0.341},{"d":"2026-02-07","s":"BBM","p":0.330},{"d":"2026-02-10","s":"BBM","p":0.312},{"d":"2026-02-14","s":"BBM","p":0.297},{"d":"2026-02-17","s":"BBM","p":0.286},{"d":"2026-02-20","s":"BBM","p":0.279},{"d":"2026-02-26","s":"BBM","p":0.281},{"d":"2026-03-01","s":"BBM","p":0.278},{"d":"2026-03-05","s":"BBM","p":0.275},{"d":"2026-03-11","s":"BBM","p":0.272},{"d":"2026-03-15","s":"BBM","p":0.272},{"d":"2026-03-22","s":"BBM","p":0.267},{"d":"2026-03-28","s":"BBM","p":0.260},{"d":"2026-04-04","s":"BBM","p":0.257},{"d":"2026-04-10","s":"BBM","p":0.246},{"d":"2026-04-16","s":"BBM","p":0.246},{"d":"2026-04-21","s":"BBM","p":0.249},{"d":"2026-04-27","s":"BBM","p":0.250},{"d":"2026-05-04","s":"BBM","p":0.249},{"d":"2026-05-10","s":"BBM","p":0.259},{"d":"2026-05-13","s":"BBM","p":0.262},{"d":"2026-05-17","s":"BBM","p":0.262},{"d":"2026-05-23","s":"BBM","p":0.260},{"d":"2026-05-27","s":"BBM","p":0.261},{"d":"2026-05-30","s":"BBM","p":0.260},{"d":"2026-06-03","s":"BBM","p":0.251},{"d":"2026-06-06","s":"BBM","p":0.233},{"d":"2026-06-09","s":"BBM","p":0.221},{"d":"2026-06-12","s":"BBM","p":0.211},{"d":"2026-06-15","s":"BBM","p":0.201},{"d":"2026-06-19","s":"BBM","p":0.191},{"d":"2026-06-22","s":"BBM","p":0.178},{"d":"2026-06-25","s":"BBM","p":0.167},{"d":"2026-06-28","s":"BBM","p":0.162},{"d":"2026-07-01","s":"BBM","p":0.160},{"d":"2026-07-04","s":"BBM","p":0.158},{"d":"2026-07-06","s":"BBM","p":0.157}
]
},
"encoding": {
  "x": {"field": "d", "type": "temporal", "title": null,
    "scale": {"type": "utc", "padding": 0, "domain": [{"year": 2025, "month": 9, "date": 9, "hours": 9, "utc": true}, {"year": 2026, "month": 7, "date": 7, "hours": 7, "utc": true}]},
    "axis": {"orient": "bottom", "grid": false, "domain": false, "ticks": false, "labelPadding": 9, "labelExpr": "utcFormat(datum.value, '%b %Y')", "labelFontSize": 10.5, "labelColor": "#666666", "labelFont": "Liberation Sans",
      "values": [{"year": 2025, "month": 10, "date": 1, "utc": true}, {"year": 2025, "month": 11, "date": 1, "utc": true}, {"year": 2025, "month": 12, "date": 1, "utc": true}, {"year": 2026, "month": 1, "date": 1, "utc": true}, {"year": 2026, "month": 2, "date": 1, "utc": true}, {"year": 2026, "month": 3, "date": 1, "utc": true}, {"year": 2026, "month": 4, "date": 1, "utc": true}, {"year": 2026, "month": 5, "date": 1, "utc": true}, {"year": 2026, "month": 6, "date": 1, "utc": true}, {"year": 2026, "month": 7, "date": 1, "utc": true}]}
  }
},
"layer": [
  {"data": {"name": "grid"}, "mark": {"type": "rule", "color": "#e6e6e6", "strokeWidth": 1}, "encoding": {}},
  {"data": {"name": "candles"}, "mark": {"type": "bar", "size": 4},
   "encoding": {
     "y": {"field": "v", "type": "quantitative", "scale": {"domain": [0, 900]}, "axis": null},
     "color": {"condition": {"test": "datum.c >= datum.o", "value": "#cdeedb"}, "value": "#f7cfcb"}
   }},
  {"layer": [
    {"data": {"name": "lines"}, "transform": [{"filter": "datum.s === 'BBU'"}], "mark": {"type": "line", "color": "#c4c4c4", "strokeWidth": 1},
     "encoding": {"y": {"field": "p", "type": "quantitative", "title": null, "scale": {"domain": [0.1, 1.0]}, "axis": {"orient": "right", "values": [0.1,0.2,0.3,0.4,0.5,0.6,0.7,0.8,0.9,1.0], "format": ".1f", "title": null}}}},
    {"data": {"name": "lines"}, "transform": [{"filter": "datum.s === 'BBL'"}], "mark": {"type": "line", "color": "#c4c4c4", "strokeWidth": 1},
     "encoding": {"y": {"field": "p", "type": "quantitative", "title": null, "scale": {"domain": [0.1, 1.0]}, "axis": {"orient": "right", "values": [0.1,0.2,0.3,0.4,0.5,0.6,0.7,0.8,0.9,1.0], "format": ".1f", "title": null}}}},
    {"data": {"name": "lines"}, "transform": [{"filter": "datum.s === 'BBM'"}], "mark": {"type": "line", "color": "#9e9e9e", "strokeWidth": 1, "strokeDash": [3, 3]},
     "encoding": {"y": {"field": "p", "type": "quantitative", "title": null, "scale": {"domain": [0.1, 1.0]}, "axis": {"orient": "right", "values": [0.1,0.2,0.3,0.4,0.5,0.6,0.7,0.8,0.9,1.0], "format": ".1f", "title": null}}}},
    {"data": {"name": "lines"}, "transform": [{"filter": "datum.s === 'EMA200'"}], "mark": {"type": "line", "color": "#111111", "strokeWidth": 1.5, "strokeDash": [5, 4]},
     "encoding": {"y": {"field": "p", "type": "quantitative", "title": null, "scale": {"domain": [0.1, 1.0]}, "axis": {"orient": "right", "values": [0.1,0.2,0.3,0.4,0.5,0.6,0.7,0.8,0.9,1.0], "format": ".1f", "title": null}}}},
    {"data": {"name": "lines"}, "transform": [{"filter": "datum.s === 'EMA100'"}], "mark": {"type": "line", "color": "#8b5a2b", "strokeWidth": 1.5},
     "encoding": {"y": {"field": "p", "type": "quantitative", "title": null, "scale": {"domain": [0.1, 1.0]}, "axis": {"orient": "right", "values": [0.1,0.2,0.3,0.4,0.5,0.6,0.7,0.8,0.9,1.0], "format": ".1f", "title": null}}}},
    {"data": {"name": "lines"}, "transform": [{"filter": "datum.s === 'EMA50'"}], "mark": {"type": "line", "color": "#9b5de5", "strokeWidth": 1.8},
     "encoding": {"y": {"field": "p", "type": "quantitative", "title": null, "scale": {"domain": [0.1, 1.0]}, "axis": {"orient": "right", "values": [0.1,0.2,0.3,0.4,0.5,0.6,0.7,0.8,0.9,1.0], "format": ".1f", "title": null}}}},
    {"data": {"name": "lines"}, "transform": [{"filter": "datum.s === 'EMA20'"}], "mark": {"type": "line", "color": "#1e88e5", "strokeWidth": 2},
     "encoding": {"y": {"field": "p", "type": "quantitative", "title": null, "scale": {"domain": [0.1, 1.0]}, "axis": {"orient": "right", "values": [0.1,0.2,0.3,0.4,0.5,0.6,0.7,0.8,0.9,1.0], "format": ".1f", "title": null}}}},
    {"data": {"name": "candles"}, "mark": {"type": "rule", "color": "#777777", "strokeWidth": 1},
     "encoding": {"y": {"field": "l", "type": "quantitative", "title": null, "scale": {"domain": [0.1, 1.0]}, "axis": {"orient": "right", "values": [0.1,0.2,0.3,0.4,0.5,0.6,0.7,0.8,0.9,1.0], "format": ".1f", "title": null}}, "y2": {"field": "h"}}},
    {"data": {"name": "candles"}, "mark": {"type": "bar", "size": 4.2, "stroke": "#4d4d4d", "strokeWidth": 0.8},
     "encoding": {"y": {"field": "o", "type": "quantitative", "title": null, "scale": {"domain": [0.1, 1.0]}, "axis": {"orient": "right", "values": [0.1,0.2,0.3,0.4,0.5,0.6,0.7,0.8,0.9,1.0], "format": ".1f", "title": null}}, "y2": {"field": "c"},
       "color": {"condition": {"test": "datum.c >= datum.o", "value": "#5a9068"}, "value": "#b8574b"}}}
  ]},
  {"data": {"name": "legendrows"}, "transform": [{"filter": "false"}],
   "mark": {"type": "point", "filled": true, "opacity": 1, "shape": "M-1.4,-1H1.4V1H-1.4Z"},
   "encoding": {
     "fill": {"field": "name", "type": "nominal",
       "scale": {"domain": ["ADA/USDT", "EMA20", "EMA50", "EMA100", "EMA200", "BB Mid (20)", "BB Upper", "BB Lower", "Volume"],
                 "range": ["#666666", "#dde6ef", "#ebe3f4", "#eee5dc", "#e3e3e3", "#eeeeee", "#e3e3e3", "#e3e3e3", "#cdeedb"]},
       "legend": {"title": null, "orient": "none", "legendX": 489, "legendY": -20, "direction": "horizontal", "columns": 9, "padding": 0,
         "symbolType": "M-1.4,-1H1.4V1H-1.4Z", "symbolSize": 121, "symbolStrokeWidth": 1.5,
         "labelFont": "Liberation Sans", "labelFontSize": 10.2, "labelColor": "#666666", "labelOffset": 5, "columnPadding": 4}},
     "stroke": {"field": "name", "type": "nominal",
       "scale": {"domain": ["ADA/USDT", "EMA20", "EMA50", "EMA100", "EMA200", "BB Mid (20)", "BB Upper", "BB Lower", "Volume"],
                 "range": ["#666666", "#1e88e5", "#9b5de5", "#8b5a2b", "#111111", "#aaaaaa", "#d0d0d0", "#d0d0d0", "#cdeedb"]},
       "legend": {"title": null, "orient": "none", "legendX": 489, "legendY": -20, "direction": "horizontal", "columns": 9, "padding": 0,
         "symbolType": "M-1.4,-1H1.4V1H-1.4Z", "symbolSize": 121, "symbolStrokeWidth": 1.5,
         "labelFont": "Liberation Sans", "labelFontSize": 10.2, "labelColor": "#666666", "labelOffset": 5, "columnPadding": 4}},
     "strokeDash": {"field": "name", "type": "nominal",
       "scale": {"domain": ["ADA/USDT", "EMA20", "EMA50", "EMA100", "EMA200", "BB Mid (20)", "BB Upper", "BB Lower", "Volume"],
                 "range": [[1, 0], [1, 0], [1, 0], [1, 0], [4, 3], [2, 2], [1, 0], [1, 0], [1, 0]]},
       "legend": {"title": null, "orient": "none", "legendX": 489, "legendY": -20, "direction": "horizontal", "columns": 9, "padding": 0,
         "symbolType": "M-1.4,-1H1.4V1H-1.4Z", "symbolSize": 121, "symbolStrokeWidth": 1.5,
         "labelFont": "Liberation Sans", "labelFontSize": 10.2, "labelColor": "#666666", "labelOffset": 5, "columnPadding": 4}}
   }}
],
"resolve": {"scale": {"y": "independent"}},
"config": {
  "view": {"stroke": null},
  "font": "Liberation Sans",
  "axisY": {"grid": true, "gridColor": "#dddddd", "gridDash": [2, 2], "gridWidth": 1, "domain": false, "ticks": false, "labelPadding": 4, "labelFontSize": 11, "labelColor": "#666666", "labelFont": "Liberation Sans"}
}
}
